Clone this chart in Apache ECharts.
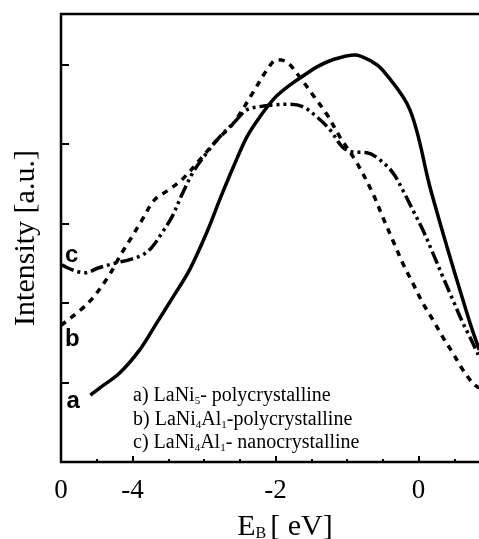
<!DOCTYPE html>
<html>
<head>
<meta charset="utf-8">
<script src="https://cdn.jsdelivr.net/npm/echarts@6/dist/echarts.min.js"></script>
<style>
html, body { margin: 0; padding: 0; background: #fff; }
#chart { width: 479px; height: 539px; }
</style>
</head>
<body>
<div id="chart"></div>
<script>
// binding energy (eV) and intensity (a.u.)
var aX = [-4.59, -4.46, -4.18, -3.90, -3.66, -3.43, -3.20, -2.96, -2.78, -2.59, -2.40, -2.22, -2.01, -1.80, -1.59, -1.42, -1.20, -0.89, -0.64, -0.50, -0.12, 0.16, 0.40, 0.58, 0.72, 0.85];
var aY = [0.84, 0.93, 1.12, 1.41, 1.75, 2.08, 2.42, 2.89, 3.30, 3.71, 4.09, 4.34, 4.58, 4.74, 4.87, 4.97, 5.06, 5.12, 5.03, 4.93, 4.43, 3.46, 2.70, 2.16, 1.75, 1.41];

var bX = [-5.00, -4.62, -4.34, -4.15, -4.01, -3.87, -3.69, -3.50, -3.31, -3.06, -2.82, -2.59, -2.32, -2.12, -1.98, -1.84, -1.66, -1.48, -1.28, -1.10, -0.86, -0.64, -0.50, -0.36, -0.22, -0.08, 0.06, 0.20, 0.34, 0.48, 0.62, 0.76, 0.85];
var bY = [1.72, 2.00, 2.33, 2.63, 2.83, 3.04, 3.30, 3.42, 3.55, 3.80, 4.05, 4.26, 4.64, 4.93, 5.06, 5.03, 4.84, 4.62, 4.37, 4.09, 3.76, 3.38, 3.08, 2.79, 2.50, 2.25, 2.00, 1.79, 1.57, 1.37, 1.16, 0.99, 0.93];

var cX = [-4.99, -4.85, -4.66, -4.48, -4.25, -4.06, -3.87, -3.73, -3.59, -3.45, -3.31, -3.15, -2.96, -2.78, -2.59, -2.40, -2.22, -2.04, -1.80, -1.62, -1.42, -1.24, -1.06, -0.92, -0.72, -0.54, -0.36, -0.22, -0.08, 0.06, 0.20, 0.34, 0.48, 0.62, 0.72, 0.85];
var cY = [2.48, 2.42, 2.38, 2.44, 2.50, 2.54, 2.60, 2.70, 2.88, 3.08, 3.36, 3.65, 3.89, 4.09, 4.26, 4.43, 4.47, 4.49, 4.50, 4.47, 4.34, 4.18, 3.96, 3.90, 3.89, 3.80, 3.64, 3.42, 3.17, 2.92, 2.63, 2.33, 2.04, 1.75, 1.57, 1.32];

var tagX = [-4.83, -4.84, -4.85];
var tagY = [0.76, 1.54, 2.60];
var tags = ['a', 'b', 'c'];

var xLabelValues = [-5, -4, -2, 0];
var xMajorTicks = [-4, -2, 0];
var xMinorTicks = [-4.5, -3.5, -3, -2.5, -1.5, -1, -0.5, 0.5];

function zip(xs, ys) {
  return xs.map(function (x, i) { return [x, ys[i]]; });
}

var serif = '"Liberation Serif", "DejaVu Serif", serif';
var chart = echarts.init(document.getElementById('chart'));

chart.setOption({
  animation: false,
  grid: {
    left: 61, top: 14, right: -10, bottom: 77,
    outerBoundsMode: 'none',
    show: true, borderColor: '#000', borderWidth: 2.5
  },
  xAxis: [
    {
      type: 'value', min: -5, max: 0.986,
      axisLine: { show: false, onZero: false },
      splitLine: { show: false },
      axisTick: { inside: true, length: 6, customValues: xMajorTicks, lineStyle: { color: '#000', width: 2 } },
      axisLabel: {
        customValues: xLabelValues,
        margin: 15,
        color: '#000', fontFamily: serif, fontSize: 27,
        formatter: function (v) { return v === -5 ? '0' : String(v); }
      },
      name: '{m|E}{s|B}{m|[ eV]}',
      nameLocation: 'middle',
      nameGap: 50,
      nameTextStyle: {
        padding: [0, 0, 0, 20],
        rich: {
          m: { fontFamily: serif, fontSize: 30, color: '#000' },
          s: { fontFamily: serif, fontSize: 16, color: '#000', padding: [14, 4, 0, 0] }
        }
      }
    },
    {
      type: 'value', min: -5, max: 0.986, position: 'bottom',
      axisLine: { show: false, onZero: false },
      splitLine: { show: false },
      axisLabel: { show: false },
      axisTick: { inside: true, length: 3, customValues: xMinorTicks, lineStyle: { color: '#000', width: 2 } }
    }
  ],
  yAxis: {
    type: 'value', min: 0, max: 5.635, interval: 1,
    axisLine: { show: false, onZero: false },
    splitLine: { show: false },
    axisLabel: { show: false },
    axisTick: { inside: true, length: 8, lineStyle: { color: '#000', width: 2 } },
    name: 'Intensity [a.u.]',
    nameLocation: 'middle',
    nameGap: 20,
    nameTextStyle: { fontFamily: serif, fontSize: 30, color: '#000' }
  },
  series: [
    {
      name: 'a', type: 'line', data: zip(aX, aY), smooth: 0.35, showSymbol: false,
      lineStyle: { color: '#000', width: 3.5 }
    },
    {
      name: 'b', type: 'line', data: zip(bX, bY), smooth: 0.35, showSymbol: false,
      lineStyle: { color: '#000', width: 3.5, type: [6, 6] }
    },
    {
      name: 'c', type: 'line', data: zip(cX, cY), smooth: 0.35, showSymbol: false,
      lineStyle: { color: '#000', width: 3.5, type: [13, 4, 3, 4, 3, 4] }
    },
    {
      type: 'scatter', symbolSize: 0, silent: true,
      data: tagX.map(function (x, i) { return { value: [x, tagY[i]], name: tags[i] }; }),
      label: {
        show: true, position: 'inside', formatter: '{b}', opacity: 1,
        fontFamily: '"Liberation Sans", Arial, sans-serif', fontSize: 24, fontWeight: 'bold', color: '#000'
      }
    }
  ],
  graphic: [
    {
      type: 'text', left: 133, top: 384,
      style: {
        text: 'a) LaNi{s|5}- polycrystalline\nb) LaNi{s|4}Al{s|1}-polycrystalline\nc) LaNi{s|4}Al{s|1}- nanocrystalline',
        fontFamily: serif, fontSize: 20, fill: '#000', lineHeight: 23.5,
        rich: {
          s: { fontFamily: serif, fontSize: 11, fill: '#000', lineHeight: 23.5, padding: [11, 0, 0, 0] }
        }
      }
    }
  ]
});
</script>
</body>
</html>
